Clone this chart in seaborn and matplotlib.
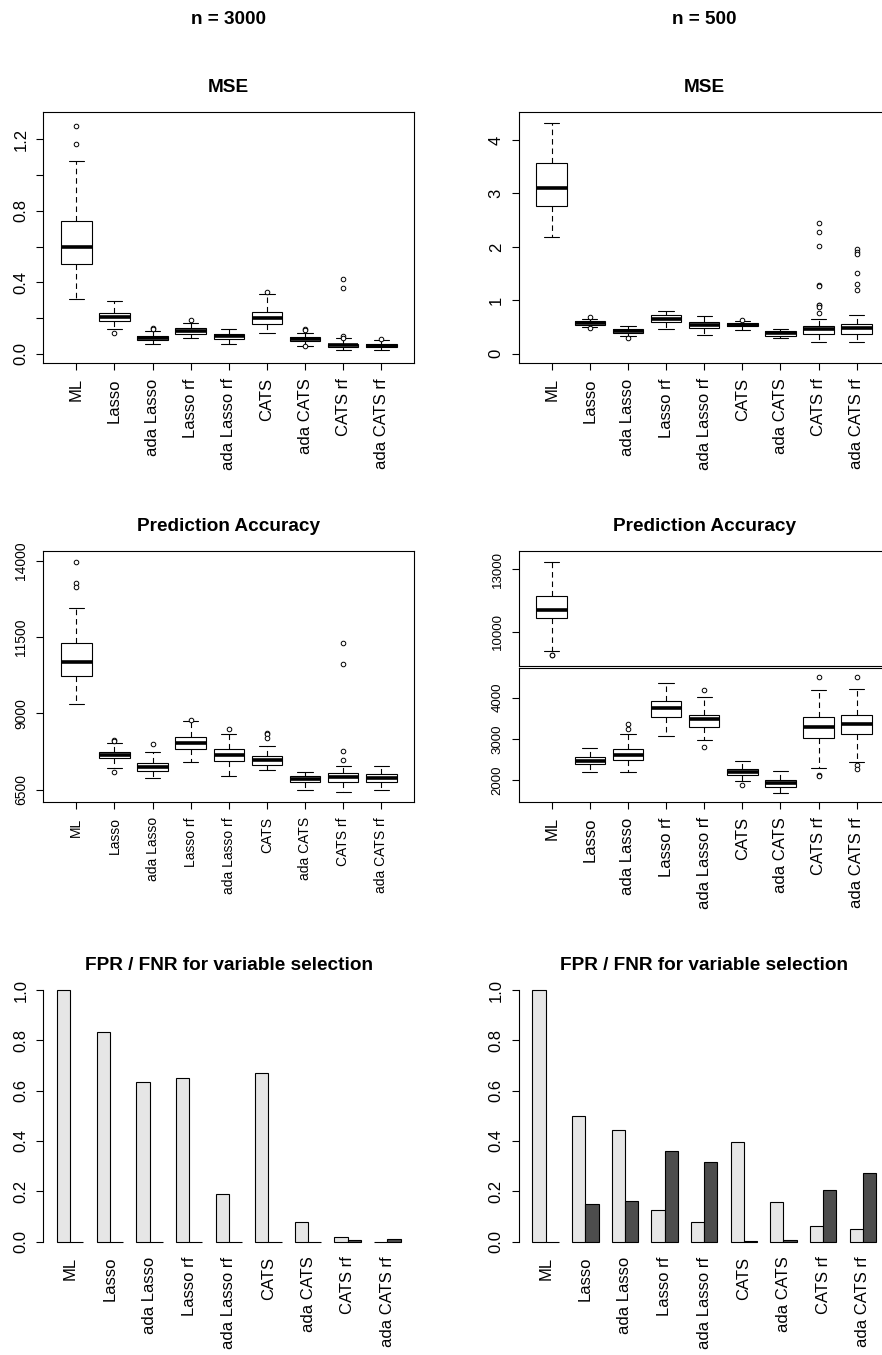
import numpy as np
import pandas as pd
import matplotlib
matplotlib.use("Agg")
import matplotlib.pyplot as plt
import seaborn as sns

methods = ["ML", "Lasso", "ada Lasso", "Lasso rf", "ada Lasso rf",
           "CATS", "ada CATS", "CATS rf", "ada CATS rf"]

# five-number summaries per method: [lower whisker, Q1, median, Q3, upper whisker]
mse_3000_box = [
    [0.306, 0.502, 0.599, 0.745, 1.079],
    [0.140, 0.187, 0.207, 0.231, 0.295],
    [0.058, 0.080, 0.091, 0.103, 0.131],
    [0.088, 0.114, 0.129, 0.144, 0.172],
    [0.058, 0.086, 0.099, 0.112, 0.142],
    [0.119, 0.168, 0.200, 0.237, 0.336],
    [0.047, 0.073, 0.084, 0.095, 0.118],
    [0.024, 0.039, 0.049, 0.058, 0.088],
    [0.024, 0.037, 0.047, 0.056, 0.077],
]
mse_3000_out = [
    [1.275, 1.174], [0.116], [0.146, 0.142], [0.189], [],
    [0.347], [0.140, 0.134, 0.043], [0.418, 0.371, 0.101, 0.090], [0.086],
]

mse_500_box = [
    [2.18, 2.76, 3.10, 3.58, 4.32],
    [0.50, 0.543, 0.574, 0.605, 0.655],
    [0.33, 0.38, 0.43, 0.468, 0.518],
    [0.468, 0.60, 0.655, 0.718, 0.805],
    [0.356, 0.48, 0.53, 0.587, 0.711],
    [0.45, 0.512, 0.537, 0.568, 0.61],
    [0.293, 0.337, 0.38, 0.418, 0.468],
    [0.225, 0.374, 0.456, 0.518, 0.643],
    [0.225, 0.374, 0.474, 0.562, 0.73],
]
mse_500_out = [
    [], [0.69, 0.49], [0.29], [], [],
    [0.637], [],
    [2.45, 2.27, 2.02, 1.285, 1.27, 0.92, 0.905, 0.88, 0.77],
    [1.96, 1.91, 1.86, 1.52, 1.30, 1.20],
]

pred_3000_box = [
    [9295, 10223, 10670, 11293, 12461],
    [7220, 7526, 7635, 7723, 8017],
    [6871, 7122, 7253, 7384, 7734],
    [7395, 7843, 8039, 8225, 8760],
    [6937, 7428, 7624, 7832, 8312],
    [7144, 7297, 7461, 7592, 7941],
    [6500, 6751, 6838, 6937, 7090],
    [6424, 6762, 6915, 7035, 7264],
    [6489, 6740, 6893, 7024, 7286],
]
pred_3000_out = [
    [13945, 13258, 13148], [8127, 8083, 7090], [7985], [8793], [8487],
    [8367, 8312, 8192], [], [11314, 10627, 7766, 7461], [],
]

pred_500_box = [
    [9086, 10642, 11043, 11733, 13369],
    [2194, 2395, 2476, 2556, 2782],
    [2210, 2492, 2621, 2758, 3113],
    [3073, 3524, 3750, 3911, 4355],
    [2976, 3290, 3484, 3589, 4008],
    [1984, 2121, 2194, 2266, 2460],
    [1685, 1847, 1927, 2008, 2218],
    [2306, 3024, 3290, 3540, 4186],
    [2436, 3129, 3355, 3589, 4218],
]
pred_500_out = [
    [8870, 8850], [], [3363, 3234], [], [4186, 2806],
    [1879], [], [4508, 2121, 2097], [4508, 2363, 2274],
]

fpr_3000 = [1.0, 0.834, 0.633, 0.651, 0.190, 0.671, 0.076, 0.017, 0.0]
fnr_3000 = [0.0, 0.0, 0.0, 0.0, 0.0, 0.0, 0.0, 0.004, 0.010]
fpr_500 = [1.0, 0.498, 0.445, 0.126, 0.076, 0.394, 0.157, 0.060, 0.050]
fnr_500 = [0.0, 0.150, 0.161, 0.359, 0.315, 0.001, 0.004, 0.206, 0.272]

col_titles = ["n = 3000", "n = 500"]

sns.set_theme(style="white")
plt.rcParams["font.family"] = ["Liberation Sans", "DejaVu Sans"]
plt.rcParams["text.color"] = "black"
plt.rcParams["axes.labelcolor"] = "black"
plt.rcParams["xtick.color"] = "black"
plt.rcParams["ytick.color"] = "black"
plt.rcParams["axes.titlecolor"] = "black"

W, H = 882, 1355
fig = plt.figure(figsize=(W / 100, H / 100), dpi=100)


def add_ax(x0, x1, y0, y1):
    return fig.add_axes([x0 / W, 1 - y1 / H, (x1 - x0) / W, (y1 - y0) / H])


LX = (43.3, 414.3)
RX = (518.7, 889.7)
ROW1 = (112, 363.3)
ROW2 = (551, 802.3)
ROW3 = (990, 1241.5)

LW = 0.8


def draw_box(ax, stats, outliers, keep):
    rows = [(m, v) for m, s, k in zip(methods, stats, keep) if k for v in s]
    box = pd.DataFrame(rows, columns=["method", "value"])
    orows = [(m, v) for m, o, k in zip(methods, outliers, keep) if k for v in o]
    out = pd.DataFrame(orows, columns=["method", "value"])
    sns.boxplot(data=box, x="method", y="value", order=methods, whis=(0, 100),
                width=0.8, color="white", linecolor="black", linewidth=LW,
                saturation=1, showfliers=False,
                medianprops=dict(linewidth=2.6, color="black", solid_capstyle="butt"),
                whiskerprops=dict(linestyle=(0, (5, 3.5)), linewidth=LW, color="black"),
                capprops=dict(linewidth=LW, color="black"),
                ax=ax)
    if len(out):
        sns.stripplot(data=out, x="method", y="value", order=methods, jitter=False,
                      color="white", edgecolor="black", linewidth=0.7, size=3.3,
                      ax=ax, zorder=5)


def style_frame(ax):
    for s in ax.spines.values():
        s.set_visible(True)
        s.set_linewidth(LW)
        s.set_color("black")
    ax.set_xlabel("")
    ax.set_ylabel("")


def style_box(ax, ylim, yticks, ylabels, ysize, xsize, show_x=True):
    ax.set_xlim(-0.864, 8.864)
    ax.set_ylim(*ylim)
    ax.set_yticks(yticks)
    ax.set_yticklabels(ylabels, fontsize=ysize, rotation=90, va="center")
    if show_x:
        ax.set_xticks(range(len(methods)))
        ax.set_xticklabels(methods, rotation=90, fontsize=xsize)
    else:
        ax.set_xticks([])
    style_frame(ax)
    ax.tick_params(axis="both", length=5, width=LW, pad=5.8, color="black",
                   labelcolor="black", left=True, bottom=show_x)


def draw_bars(ax, fpr, fnr):
    df = pd.DataFrame({"method": methods * 2,
                       "rate": ["FPR"] * len(methods) + ["FNR"] * len(methods),
                       "value": list(fpr) + list(fnr)})
    sns.barplot(data=df, x="method", y="value", hue="rate", order=methods,
                hue_order=["FPR", "FNR"],
                palette={"FPR": "#E6E6E6", "FNR": "#4D4D4D"}, saturation=1,
                width=2 / 3, gap=0, edgecolor="black", linewidth=LW,
                errorbar=None, legend=False, ax=ax)
    for p in ax.patches:
        p.set_clip_on(False)
    ax.set_xlim(-0.68, 8.68)
    ax.set_ylim(0, 1)
    ax.set_yticks([0, 0.2, 0.4, 0.6, 0.8, 1.0])
    ax.set_yticklabels(["0.0", "0.2", "0.4", "0.6", "0.8", "1.0"], fontsize=12,
                       rotation=90, va="center")
    ax.set_xticks(range(len(methods)))
    ax.set_xticklabels(methods, rotation=90, fontsize=12)
    for k in ["top", "right", "bottom"]:
        ax.spines[k].set_visible(False)
    ax.spines["left"].set_visible(True)
    ax.spines["left"].set_linewidth(LW)
    ax.spines["left"].set_color("black")
    ax.spines["left"].set_bounds(0, 1)
    ax.set_xlabel("")
    ax.set_ylabel("")
    ax.tick_params(axis="y", length=5, width=LW, pad=5.8, color="black",
                   labelcolor="black", left=True)
    ax.tick_params(axis="x", length=0, pad=10.8, bottom=False, labelcolor="black")


TITLE_KW = dict(fontweight="bold", fontsize=13.7, pad=14.5, color="black")
all_keep = [True] * len(methods)

# Row 1: MSE
ax1 = add_ax(*LX, *ROW1)
draw_box(ax1, mse_3000_box, mse_3000_out, all_keep)
style_box(ax1, (-0.052, 1.353), [0, 0.2, 0.4, 0.6, 0.8, 1.0, 1.2],
          ["0.0", "", "0.4", "", "0.8", "", "1.2"], 12, 12)
ax1.set_title("MSE", **TITLE_KW)

ax2 = add_ax(*RX, *ROW1)
draw_box(ax2, mse_500_box, mse_500_out, all_keep)
style_box(ax2, (-0.18, 4.526), [0, 1, 2, 3, 4], ["0", "1", "2", "3", "4"], 12, 12)
ax2.set_title("MSE", **TITLE_KW)

# Row 2: Prediction Accuracy
ax3 = add_ax(*LX, *ROW2)
draw_box(ax3, pred_3000_box, pred_3000_out, all_keep)
style_box(ax3, (6087, 14318), [6500, 9000, 11500, 14000],
          ["6500", "9000", "11500", "14000"], 10, 10)
ax3.set_title("Prediction Accuracy", **TITLE_KW)

ax4t = add_ax(RX[0], RX[1], ROW2[0], 665.5)
keep_ml = [m == "ML" for m in methods]
draw_box(ax4t, pred_500_box, pred_500_out, keep_ml)
style_box(ax4t, (8365, 13880), [10000, 13000], ["10000", "13000"], 9.5, 12, show_x=False)
ax4t.set_title("Prediction Accuracy", **TITLE_KW)

ax4b = add_ax(RX[0], RX[1], 667.7, ROW2[1])
keep_rest = [m != "ML" for m in methods]
draw_box(ax4b, pred_500_box, pred_500_out, keep_rest)
style_box(ax4b, (1467, 4726), [2000, 3000, 4000], ["2000", "3000", "4000"], 9.5, 12)

# Row 3: FPR / FNR
ax5 = add_ax(*LX, *ROW3)
draw_bars(ax5, fpr_3000, fnr_3000)
ax5.set_title("FPR / FNR for variable selection", **TITLE_KW)

ax6 = add_ax(*RX, *ROW3)
draw_bars(ax6, fpr_500, fnr_500)
ax6.set_title("FPR / FNR for variable selection", **TITLE_KW)

fig.text((LX[0] + LX[1]) / 2 / W, 1 - 24 / H, col_titles[0], ha="center",
         va="baseline", fontweight="bold", fontsize=13.7, color="black")
fig.text((RX[0] + RX[1]) / 2 / W, 1 - 24 / H, col_titles[1], ha="center",
         va="baseline", fontweight="bold", fontsize=13.7, color="black")

fig.savefig("out.png", dpi=100, facecolor="white")
